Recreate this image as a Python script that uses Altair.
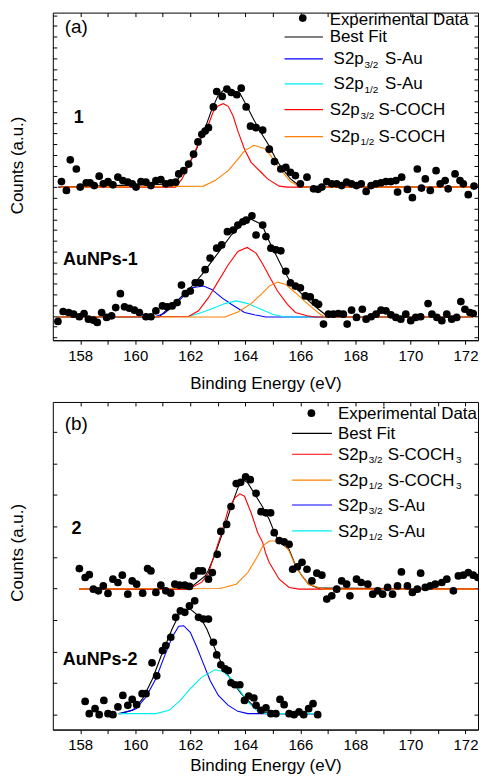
import altair as alt
import pandas as pd

FONT = "Liberation Sans"
X_DOMAIN = [157.005, 172.454]
PANEL_W = 427
H_A = 329
H_B = 329
YDOM_A = 331
YDOM_B = 329

x_ticks = list(range(158, 173))
yticks_a = [round(154.7 + 10.85 * k, 2) for k in range(-14, 17)]
yticks_b = [round(15.5 + 31.5 * k, 1) for k in range(0, 10)]

COLORS = {"fit": "#000000", "au32": "#0000ff", "au12": "#00eef0",
          "co32": "#ff0000", "co12": "#ff8000"}

# ---------------- panel (a) : sample "1" ----------------
s1_points = [(157.32,160.3),(157.50,151.3),(157.64,182.3),(157.86,173),(158.00,154.7),(158.22,159),(158.36,159),
 (158.51,156.3),(158.69,165.7),(158.84,158),(159.01,160.3),(159.19,157),(159.37,164.7),(159.55,161.3),(159.73,159.7),
 (159.89,158),(160.03,154.7),(160.21,160.3),(160.39,159.7),(160.57,156.3),(160.75,161.3),(160.93,162.3),(161.11,158),
 (161.29,159),(161.47,159.7),(161.58,168),(161.76,171.3),(161.94,178),(162.12,188),(162.28,200.3),(162.42,208),
 (162.54,211.3),(162.66,214.7),(162.84,235.7),(162.96,251.3),(163.16,246.3),(163.33,253.7),(163.49,250.3),(163.69,248),
 (163.85,254.7),(164.03,235.7),(164.19,216.3),(164.39,214.7),(164.63,212.3),(164.87,193),(165.06,180.5),(165.29,173),
 (165.47,174.7),(165.64,169.7),(165.82,166.3),(166.00,158),(166.24,164.7),(166.48,153),(166.64,152.5),(166.78,154.7),
 (166.96,160.3),(167.14,158),(167.32,158),(167.50,156.3),(167.68,159.7),(167.86,158),(168.04,156.3),(168.21,158),
 (168.39,150.3),(168.57,156.3),(168.75,158),(168.93,159),(169.11,160.3),(169.29,160.3),(169.47,161.3),(169.53,149.7),
 (169.68,164.7),(169.89,152.3),(170.07,144),(170.25,173),(170.40,153.7),(170.54,163),(170.72,151.3),(170.93,171.3),
 (171.08,158),(171.26,161.3),(171.37,153),(171.62,168),(171.80,161.3),(171.92,158),(172.10,147),(172.31,155.7)]
s1_fit = [(157.20,154.7),(161.40,158),(161.76,169.7),(162.12,186.3),(162.48,209.7),(162.78,233),(163.02,248),
 (163.26,253.7),(163.49,253),(163.80,249.7),(164.03,238),(164.27,224.7),(164.57,209.7),(164.87,196.3),(165.11,183),
 (165.35,173),(165.64,163),(165.95,156.3),(166.24,154.7),(172.44,154.7)]
s1_co32 = [(157.28,154.7),(161.47,154.7),(161.70,163),(161.94,176.3),(162.18,191.3),(162.42,206.3),(162.66,218),
 (162.84,231.3),(163.02,237),(163.20,239),(163.38,236.3),(163.56,226.3),(163.73,211.3),(163.97,193),(164.21,179.7),
 (164.57,169.7),(164.81,163),(165.23,155.7),(165.53,154.7),(172.34,154.7)]
s1_co12 = [(157.28,154.7),(162.48,155.7),(162.90,161.3),(163.38,171.3),(163.73,183),(163.97,191.3),(164.31,197),
 (164.69,193.7),(164.93,186.3),(165.17,176.3),(165.41,168),(165.64,160.3),(165.95,155.7),(166.24,154.7),(172.34,154.7)]

# ---------------- panel (a) : sample "AuNPs-1" ----------------
a1_points = [(157.19,19),(157.38,29),(157.58,28),(157.76,26.3),(157.97,23.7),(158.14,27),(158.30,21.3),(158.48,20.3),
 (158.62,18),(158.78,28),(158.96,23),(159.14,24.7),(159.29,33),(159.46,47),(159.61,33.7),(159.79,32.3),(159.97,30.3),
 (160.15,28),(160.39,23.7),(160.57,23.7),(160.75,29.7),(160.99,34.7),(161.16,33.7),(161.34,34.7),(161.52,38),
 (161.68,55.7),(161.82,47),(162.00,49.7),(162.18,58),(162.36,58),(162.54,71.3),(162.72,83),(162.96,93),(163.14,96.3),
 (163.35,109.7),(163.56,111.3),(163.73,116.3),(163.91,119.7),(164.03,121.3),(164.24,125.7),(164.39,106.3),
 (164.63,116.3),(164.75,104.7),(164.93,93),(165.11,91.3),(165.29,90.3),(165.47,69.7),(165.64,58),(165.82,54.7),
 (166.00,53),(166.18,44.7),(166.36,43.7),(166.54,38),(166.66,36.3),(166.84,16.3),(167.02,26.3),(167.20,26.3),
 (167.38,27),(167.56,26.3),(167.70,16.3),(167.86,30.3),(168.04,23),(168.25,31.3),(168.39,21.3),(168.57,23.7),
 (168.75,26.3),(168.93,30.3),(169.11,29.7),(169.29,25.7),(169.47,23),(169.65,21.3),(169.83,26.3),(170.01,19.7),
 (170.19,23),(170.37,23.7),(170.64,37),(170.78,26.3),(170.96,23),(171.14,19.7),(171.32,26.3),(171.50,21.3),
 (171.68,23),(171.83,39),(171.98,31.3),(172.16,28),(172.28,27)]
a1_fit = [(157.18,23.5),(160.87,23.5),(161.23,33),(161.64,43),(162.06,54.7),(162.42,66.3),(162.78,79.7),(163.14,93),
 (163.49,106.3),(163.85,116.3),(164.21,122.3),(164.60,117),(164.87,99.7),(165.11,86.3),(165.35,73),(165.59,61.3),
 (165.95,49.7),(166.30,39.7),(166.66,31.3),(166.96,24.7),(167.14,23.5),(172.26,23.5)]
a1_au32 = [(157.18,23.5),(160.69,23.5),(161.05,27),(161.40,35),(161.70,43),(162.06,53),(162.48,54.7),(162.78,51.3),
 (163.14,43),(163.49,36.3),(163.97,28),(164.33,25.7),(164.75,23.5),(172.26,23.5)]
a1_au12 = [(157.18,23.5),(161.94,24),(162.42,28),(162.90,33),(163.26,37),(163.67,39.7),(164.09,37),(164.57,31.3),
 (164.99,26.3),(165.35,24),(165.53,23.5),(172.26,23.5)]
a1_co32 = [(157.18,23.5),(161.94,24),(162.30,29.7),(162.66,43),(163.02,59.7),(163.38,76.3),(163.73,89.7),(164.07,93.7),
 (164.39,88),(164.63,77),(164.87,64.7),(165.17,49.7),(165.53,36.3),(165.82,28),(166.24,24.7),(166.54,23.5),(172.26,23.5)]
a1_co12 = [(157.18,23.5),(163.26,23.5),(163.73,28.5),(164.21,37),(164.57,46.3),(164.87,54.7),(165.17,58.7),
 (165.47,56.3),(165.82,48),(166.14,39.7),(166.43,33),(166.72,26.3),(166.90,23.5),(172.26,23.5)]

# ---------------- panel (b) : sample "2" ----------------
s2_points = [(157.97,161.7),(158.18,152.7),(158.33,155.5),(158.48,141),(158.66,139.3),(158.84,144.3),(159.01,136.7),
 (159.19,151),(159.37,147.7),(159.53,155),(159.73,136),(159.89,149.3),(160.05,146),(160.27,137),(160.45,161.7),
 (160.57,159.3),(160.75,137.7),(160.93,145),(161.11,139.3),(161.29,137),(161.44,146),(161.61,145),(161.80,145),
 (161.97,143.7),(162.12,154.3),(162.30,159.3),(162.44,159.3),(162.66,151),(162.80,157.7),(162.98,176),(163.11,199),
 (163.32,206),(163.48,224),(163.67,247),(163.83,248.3),(164.01,253.7),(164.18,251),(164.39,237.3),(164.57,218.8),
 (164.75,217.7),(164.92,217.7),(165.05,197.7),(165.23,189.8),(165.41,188.5),(165.59,186),(165.72,161),(165.89,163.5),
 (166.06,168),(166.24,161),(166.42,149.3),(166.60,157),(166.78,155),(166.96,131),(167.14,134.3),(167.32,141),
 (167.50,149.3),(167.68,146),(167.80,134.3),(168.04,151),(168.21,147.7),(168.45,146),(168.63,136),(168.81,139.3),
 (168.99,136),(169.17,142.7),(169.35,136),(169.53,144.3),(169.67,158.3),(169.89,144.3),(170.07,137.7),(170.25,141),
 (170.37,157),(170.54,142.7),(170.72,144.3),(170.90,146),(171.14,147.7),(171.32,151),(171.56,139.3),(171.74,154.3),
 (171.92,155),(172.10,157.7),(172.28,155),(172.45,152.7)]
s2_fit = [(157.96,141),(161.94,141),(162.54,154.3),(162.66,160),(162.90,176),(163.26,204.3),(163.49,224.3),
 (163.73,242.7),(163.91,251),(164.09,247.7),(164.39,234.3),(164.63,223.5),(164.87,211),(165.11,194.3),(165.35,186),
 (165.59,181),(165.82,165),(166.06,154.3),(166.30,146),(166.66,142),(172.45,141)]
s2_co32 = [(157.96,141),(161.94,141),(162.42,148),(162.66,157),(162.90,177.7),(163.14,197.7),(163.38,221),
 (163.62,232.7),(163.80,236.7),(163.97,234.3),(164.21,217.7),(164.45,197.7),(164.63,188),(164.75,176),(164.87,167.7),
 (165.23,151),(165.59,142.7),(165.95,141),(172.45,141)]
s2_co12 = [(157.96,141),(163.08,141.7),(163.67,146),(164.09,157.7),(164.45,174.3),(164.63,184.3),(164.87,189.3),
 (165.05,189.3),(165.35,187.7),(165.59,179.3),(165.82,164.3),(166.06,154.3),(166.30,146),(166.66,142.7),(166.90,141),
 (172.45,141)]

# ---------------- panel (b) : sample "AuNPs-2" ----------------
a2_points = [(158.18,28.3),(158.33,16),(158.54,21),(158.69,15),(158.86,29.3),(159.01,16),(159.19,15),(159.37,22.7),
 (159.55,34.3),(159.73,24.3),(159.89,30.3),(160.05,25),(160.25,36),(160.39,36),(160.61,67),(160.78,54),(160.99,79.3),
 (161.11,84.3),(161.29,92.7),(161.47,112.7),(161.64,119.3),(161.80,117.7),(161.97,124.3),(162.16,129.3),(162.30,112.7),
 (162.48,111),(162.66,111),(162.84,87.7),(162.96,75),(163.11,65),(163.26,61),(163.38,59.3),(163.48,47),(163.62,45),
 (163.80,45),(163.97,29.3),(164.12,33.7),(164.31,31.7),(164.39,24.3),(164.57,19.3),(164.75,21.7),(164.93,16),
 (165.11,16),(165.26,30.3),(165.41,25),(165.59,16),(165.77,15),(165.95,17.7),(166.12,15),(166.30,21),(166.46,26),
 (166.63,15)]
a2_fit = [(159.40,16),(159.91,19.3),(160.27,31),(160.63,51),(160.99,77.7),(161.34,101),(161.64,118.3),(162.00,121),
 (162.36,112.7),(162.60,101),(162.90,81),(163.20,62.7),(163.49,49.3),(163.85,36),(164.21,26),(164.57,17.7),
 (164.93,16),(166.60,16)]
a2_au32 = [(159.40,16),(159.49,16),(160.03,21),(160.39,32.7),(160.75,51),(161.05,72.7),(161.34,92.7),(161.58,103.7),
 (161.76,104.3),(162.00,97.7),(162.24,82.7),(162.48,66),(162.72,49.3),(163.02,34.3),(163.38,24.3),(163.73,18.3),
 (164.09,16),(166.60,16)]
a2_au12 = [(159.40,16),(160.75,16),(161.23,19.3),(161.64,29.3),(162.00,41),(162.42,52.7),(162.90,60),(163.20,58.3),
 (163.49,51),(163.80,39.3),(164.09,27.7),(164.45,18.3),(164.75,16),(166.60,16)]

# ---------------- legends / labels (pixel layout inside each panel) ----------------
leg_a_marker = [(251, 5.5)]
leg_a_lines = [(232.7, 271.3, 24.5, "fit"), (232.7, 271.3, 46.5, "au32"), (232.7, 271.3, 71.5, "au12"),
               (232.7, 271.3, 97.5, "co32"), (232.7, 271.3, 124.5, "co12")]
leg_a_text = [("Experimental Data", 278, 7.4, 17), ("Best Fit", 278, 24.8, 17),
              ("S2p", 282, 46.8, 17), ("3/2", 313, 52.5, 10), ("S-Au", 333.7, 46.8, 17),
              ("S2p", 282, 71.8, 17), ("1/2", 313, 77.5, 10), ("S-Au", 333.7, 71.8, 17),
              ("S2p", 278, 97.8, 17), ("3/2", 309, 103.5, 10), ("S-COCH", 327, 97.8, 17),
              ("S2p", 278, 124.5, 17), ("1/2", 309, 130.2, 10), ("S-COCH", 327, 124.5, 17)]
lab_a = [("1", 21, 105.5, 18, "bold"), ("AuNPs-1", 10.3, 248.5, 18, "bold"), ("(a)", 12, 14, 19, "normal")]

leg_b_marker = [(259.7, 11.3)]
leg_b_lines = [(240.3, 280.3, 31.5, "fit"), (240.3, 280.3, 52.5, "co32"), (240.3, 280.3, 78.5, "co12"),
               (240.3, 280.3, 103.5, "au32"), (240.3, 280.3, 129.5, "au12")]
leg_b_text = [("Experimental Data", 286.3, 12.5, 17), ("Best Fit", 286.3, 32.3, 17),
              ("S2p", 286.3, 52.8, 17), ("3/2", 317.3, 58.5, 10), ("S-COCH", 336.3, 52.8, 17), ("3", 405, 58.5, 10),
              ("S2p", 286.3, 79.2, 17), ("1/2", 317.3, 84.9, 10), ("S-COCH", 336.3, 79.2, 17), ("3", 405, 84.9, 10),
              ("S2p", 286.3, 104.2, 17), ("3/2", 317.3, 109.9, 10), ("S-Au", 336.3, 104.2, 17),
              ("S2p", 286.3, 130.2, 17), ("1/2", 317.3, 135.9, 10), ("S-Au", 336.3, 130.2, 17)]
lab_b = [("2", 18.7, 128, 18, "bold"), ("AuNPs-2", 10, 258.8, 18, "bold"), ("(b)", 12, 22.5, 19, "normal")]


def pts_df(series):
    rows = []
    for name, pairs in series:
        for e, c in pairs:
            rows.append({"E": e, "c": c, "sample": name})
    return pd.DataFrame(rows)


def panel(H, ydom, yticks, points, curves, lmarker, llines, ltext, labels, title_y, title_pad):
    sx = alt.Scale(domain=X_DOMAIN, nice=False, zero=False)
    sy = alt.Scale(domain=[0, ydom], nice=False, zero=False)
    layers = []
    for comp in ["fit", "au32", "au12", "co32", "co12"]:
        if comp not in curves:
            continue
        df = pts_df(curves[comp])
        layers.append(alt.Chart(df).mark_line(color=COLORS[comp], strokeWidth=1.1, clip=True).encode(
            x=alt.X("E:Q", scale=sx, axis=None),
            y=alt.Y("c:Q", scale=sy, axis=None),
            detail="sample:N"))
    pdf = pts_df(points)
    # inward ticks on the top and right edges of the frame
    layers.append(alt.Chart(pdf).mark_point(opacity=0, clip=True).encode(
        x=alt.X("E:Q", scale=sx, axis=alt.Axis(orient="top", values=x_ticks, labels=False, tickSize=4, offset=-4,
                                                 domain=False, grid=False, title=None, minExtent=0,
                                                 tickColor="black")),
        y=alt.Y("c:Q", scale=sy, axis=alt.Axis(orient="right", values=yticks, labels=False, tickSize=4, offset=-4,
                                                 domain=False, grid=False, title=None, minExtent=0,
                                                 tickColor="black"))))
    # data points carrying the main axes
    layers.append(alt.Chart(pdf).mark_circle(size=60, color="black", opacity=1, clip=True).encode(
        x=alt.X("E:Q", scale=sx, axis=alt.Axis(
            orient="bottom", values=x_ticks, labelExpr="datum.value % 2 == 0 ? datum.label : ''",
            tickSize=4, labelPadding=4, labelFontSize=15, title="Binding Energy (eV)", titleFontSize=17,
            titlePadding=title_pad, grid=False, minExtent=0, domainColor="black", tickColor="black")),
        y=alt.Y("c:Q", scale=sy, axis=alt.Axis(
            orient="left", values=yticks, labels=False, tickSize=4, offset=-4, domain=False, grid=False,
            minExtent=0, title="Counts (a.u.)", titleFontSize=17, titleX=-39, titleY=title_y,
            titleBaseline="middle", titleAlign="center", tickColor="black"))))
    # legend sample lines, one rule each with its own colour
    for a, b, y, k in llines:
        ldf = pd.DataFrame([{"x1": a, "x2": b, "y": y}])
        layers.append(alt.Chart(ldf).mark_rule(strokeWidth=1.2, color=COLORS[k]).encode(
            x=alt.X("x1:Q", scale=None, axis=None), x2="x2:Q",
            y=alt.Y("y:Q", scale=None, axis=None)))
    mdf = pd.DataFrame([{"x": a, "y": b} for a, b in lmarker])
    layers.append(alt.Chart(mdf).mark_circle(size=60, color="black", opacity=1).encode(
        x=alt.X("x:Q", scale=None, axis=None), y=alt.Y("y:Q", scale=None, axis=None)))
    tdf = pd.DataFrame([{"t": t, "x": x, "y": y, "fs": fs} for t, x, y, fs in ltext])
    layers.append(alt.Chart(tdf).mark_text(align="left", baseline="middle", font=FONT, color="black",
                                           clip=True).encode(
        x=alt.X("x:Q", scale=None, axis=None), y=alt.Y("y:Q", scale=None, axis=None),
        text="t:N", size=alt.Size("fs:Q", scale=None, legend=None)))
    for t, x, y, fs, fw in labels:
        ldf2 = pd.DataFrame([{"t": t, "x": x, "y": y}])
        layers.append(alt.Chart(ldf2).mark_text(align="left", baseline="middle", font=FONT, color="black",
                                                fontSize=fs, fontWeight=fw).encode(
            x=alt.X("x:Q", scale=None, axis=None), y=alt.Y("y:Q", scale=None, axis=None), text="t:N"))
    return alt.layer(*layers).resolve_axis(x="independent", y="independent").properties(width=PANEL_W, height=H)


pa = panel(H_A, YDOM_A, yticks_a, [("1", s1_points), ("AuNPs-1", a1_points)],
           {"fit": [("1", s1_fit), ("AuNPs-1", a1_fit)],
            "au32": [("AuNPs-1", a1_au32)],
            "au12": [("AuNPs-1", a1_au12)],
            "co32": [("1", s1_co32), ("AuNPs-1", a1_co32)],
            "co12": [("1", s1_co12), ("AuNPs-1", a1_co12)]},
           leg_a_marker, leg_a_lines, leg_a_text, lab_a, 153, 12)

pb = panel(H_B, YDOM_B, yticks_b, [("2", s2_points), ("AuNPs-2", a2_points)],
           {"fit": [("2", s2_fit), ("AuNPs-2", a2_fit)],
            "au32": [("AuNPs-2", a2_au32)],
            "au12": [("AuNPs-2", a2_au12)],
            "co32": [("2", s2_co32)],
            "co12": [("2", s2_co12)]},
           leg_b_marker, leg_b_lines, leg_b_text, lab_b, 151, 5)

chart = alt.vconcat(pa, pb, spacing=9).properties(
    padding={"left": 0, "top": 2, "right": 0, "bottom": 0}
).configure_view(stroke="black", strokeWidth=1).configure_axis(
    labelFont=FONT, titleFont=FONT, labelColor="black", titleColor="black", titleFontWeight="normal"
)

chart.save("out.html", embed_options={"renderer": "svg", "actions": False})
